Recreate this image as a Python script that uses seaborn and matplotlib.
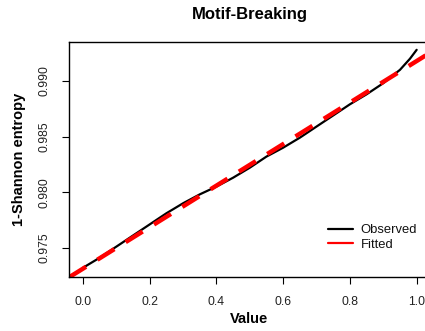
import matplotlib
matplotlib.use("Agg")
import matplotlib.pyplot as plt
import seaborn as sns
import pandas as pd
from matplotlib.lines import Line2D

# Data
obs_x = [0.0, 0.05, 0.1, 0.15, 0.2, 0.25, 0.3, 0.35, 0.4, 0.45, 0.5, 0.55,
         0.6, 0.65, 0.7, 0.75, 0.8, 0.85, 0.9, 0.95, 0.98, 1.0]
obs_y = [0.9732, 0.9741, 0.9751, 0.9761, 0.9771, 0.9781, 0.9790, 0.9798,
         0.9805, 0.9813, 0.9822, 0.9832, 0.9840, 0.9849, 0.9859, 0.9869,
         0.9879, 0.9888, 0.9898, 0.9910, 0.9920, 0.9928]
fit_intercept = 0.97312
fit_slope = 0.01867
x_ticks = [0.0, 0.2, 0.4, 0.6, 0.8, 1.0]
y_ticks = [0.975, 0.980, 0.985, 0.990]
title = "Motif-Breaking"
xlabel = "Value"
ylabel = "1-Shannon entropy"
series_names = ["Observed", "Fitted"]

sns.set_style("white")
plt.rcParams['font.family'] = ['Liberation Sans', 'DejaVu Sans']
plt.rcParams['text.color'] = 'black'
plt.rcParams['axes.labelcolor'] = 'black'

fig = plt.figure(figsize=(4.25, 3.31), dpi=100)
ax = fig.add_axes([69/425, (331-277.3)/331, (430-69)/425, (277.3-41.7)/331])

df = pd.DataFrame({"x": obs_x, "y": obs_y})
sns.lineplot(data=df, x="x", y="y", ax=ax, color="black", linewidth=1.6,
             label=series_names[0], legend=False)
ax.axline((0, fit_intercept), slope=fit_slope, color="red", linewidth=3.2,
          dashes=(4.5, 3.0), label=series_names[1])

ax.set_xlim(-0.042, 1.04)
ax.set_ylim(0.97234, 0.99353)
ax.set_xticks(x_ticks)
ax.set_xticklabels([f"{v:.1f}" for v in x_ticks], fontsize=8.8, color="#222222")
ax.set_yticks(y_ticks)
ax.set_yticklabels([f"{v:.3f}" for v in y_ticks], fontsize=8.8, rotation=90,
                   va="center", color="#222222")
ax.tick_params(axis="x", direction="out", length=5, width=0.8, color="black",
               bottom=True, pad=8.5)
ax.tick_params(axis="y", direction="out", length=5, width=0.8, color="black",
               left=True, pad=8)
for s in ax.spines.values():
    s.set_color("black")
    s.set_linewidth(1.0)

ax.set_xlabel(xlabel, fontsize=10.5, fontweight="bold", labelpad=3)
ax.set_ylabel(ylabel, fontsize=10.5, fontweight="bold", labelpad=9)
fig.suptitle(title, x=249.5/425, y=1 - 7/331, va="top", fontsize=12,
             fontweight="bold", color="black")

handles = [Line2D([], [], color="black", linewidth=1.6),
           Line2D([], [], color="red", linewidth=1.6)]
leg = ax.legend(handles, series_names, loc="upper left",
                bbox_to_anchor=(328/425, 1 - 224/331), bbox_transform=fig.transFigure,
                frameon=False, fontsize=9.4, handlelength=1.9, handletextpad=0.6,
                labelspacing=0.2, borderaxespad=0, borderpad=0)
for t in leg.get_texts():
    t.set_color("#111111")

fig.savefig("out.png", dpi=100)
